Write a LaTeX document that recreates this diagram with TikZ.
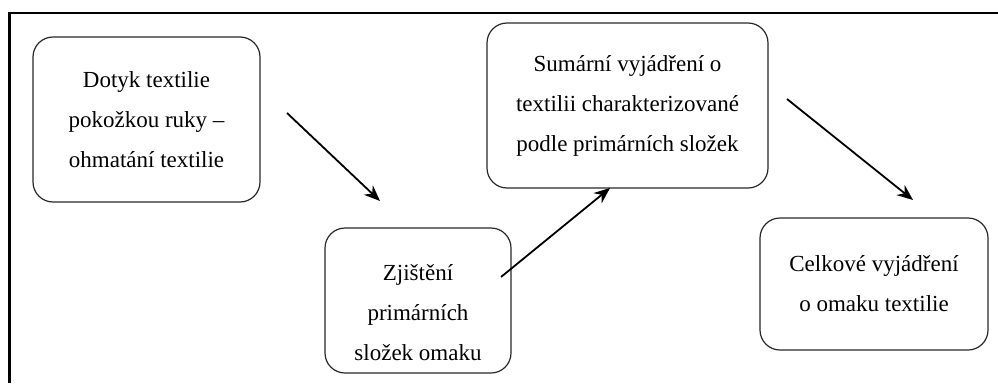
\documentclass[tikz,border=0pt]{standalone}
\usepackage{fontspec}
\setmainfont{Liberation Serif}
\usepackage{tikz}
\usetikzlibrary{arrows.meta,positioning}
\definecolor{boxline}{RGB}{40,40,40}

\begin{document}
\begin{tikzpicture}[
			x=1pt, y=-1pt,
			box/.style={draw=boxline, line width=1.2pt, rounded corners=20pt, align=center, inner sep=0pt,
				font=\fontsize{23}{40}\selectfont},
			arrow/.style={-{Stealth[length=16pt,width=13pt]}, line width=1.8pt},
			frame/.style={line width=2.3pt}
		]

		\useasboundingbox (0,0) rectangle (998,383);

		% cropped outer frame
		\coordinate (fl) at (9.5,383);
		\coordinate (fc) at (9.5,13);
		\coordinate (fr) at (998,13);
		\draw[frame] (fl) -- (fc) -- (fr);

		\node[box, minimum width=227pt, minimum height=165pt] (dotyk) at (146.5,119.5)
			{Dotyk textilie\\pokožkou ruky –\\ohmatání textilie};
		\node[box, minimum width=186pt, minimum height=145pt] (zjisteni) at (418,300.5)
			{\raisebox{-12pt}[\height][\depth]{\begin{tabular}{@{}c@{}}Zjištění\\primárních\\složek omaku\end{tabular}}};
		\node[box, minimum width=281pt, minimum height=165pt] (sumar) at (627.5,105.5)
			{Sumární vyjádření o\\textilii charakterizované\\podle primárních složek};
		\node[box, minimum width=228pt, minimum height=132pt] (celek) at (874,284)
			{Celkové vyjádření\\o omaku textilie};

		% free arrow ends
		\coordinate (a1s) at (287,113);
		\coordinate (a1e) at (380,201);
		\coordinate (a2s) at (501,277);
		\coordinate (a2e) at (610,188);
		\coordinate (a3s) at (787,99);
		\coordinate (a3e) at (913,200);

		\draw[arrow] (a1s) -- (a1e);
		\draw[arrow] (a2s) -- (a2e);
		\draw[arrow] (a3s) -- (a3e);

	\end{tikzpicture}
\end{document}
